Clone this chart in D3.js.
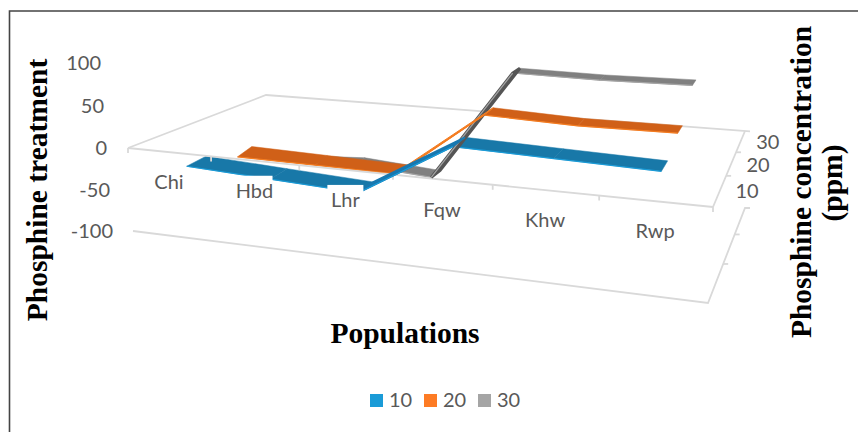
<!DOCTYPE html>
<html>
<head>
<meta charset="utf-8">
<script src="https://cdn.jsdelivr.net/npm/d3@7"></script>
<style>
  html, body { margin: 0; padding: 0; background: white; }
  svg { display: block; }
</style>
</head>
<body>
<div id="container"></div>
<script>
let w = 858;
let h = 432;

// values
let categories = ["Chi", "Hbd", "Lhr", "Fqw", "Khw", "Rwp"];
let concentrations = [10, 20, 30];
let values10 = [-26, -31, -36, 28, 25, 22];
let values20 = [-44, -45, -46, 38, 34, 35];
let values30 = [-82, -76, -84, 67, 65, 66];
let valueTicks = [100, 50, 0, -50, -100];

// colours for top of ribbon, steep part / edge, legend
let topColors = ["#1878a8", "#d06018", "#808080"];
let edgeColors = ["#1a9bd7", "#f47c20", "#a5a5a5"];
let riseColors = ["#1878b0", "#f47c20", "#555555"];
let riseWidths = [1.6, 1, 3];
let legendColors = ["#1a9bd7", "#fd7b24", "#a5a5a5"];
let gridColor = "#d9d9d9";
let textColor = "#595959";

// depth slots of the three ribbons, measured on the floor
let slotFront = [0.13, 0.52, 0.87];
let slotBack = [0.28, 0.63, 0.96];
let backLift = [1.5, 4, 0]; // ribbons look a bit wider on the left side
let labelDepth = [0.22, 0.565, 0.87];
let depthTicks = [0.41, 0.72];

// the floor of the box at value 0, four corners on screen
let frontLeft = [128, 148], frontRight = [713, 207];
let backLeft = [266, 95], backRight = [745, 131];

let catScale = d3.scaleBand().domain(categories).range([0, 1]);
// px per value unit at the left / right end of the front edge
let unitScale = d3.scaleLinear().domain([0, 1]).range([0.83, 0.96]);
let leanScale = d3.scaleLinear().domain([0, 1]).range([-0.04, 0.05]);

// the x axis is foreshortened toward the left
function warp(u){
  return u / (u + (1 - u) * 1.208);
}

function project(u, d, v){
  let t = warp(u);
  let fx = d3.interpolateNumber(frontLeft[0], frontRight[0])(t);
  let fy = d3.interpolateNumber(frontLeft[1], frontRight[1])(t);
  let bx = d3.interpolateNumber(backLeft[0], backRight[0])(t);
  let by = d3.interpolateNumber(backLeft[1], backRight[1])(t);
  let x = fx + (bx - fx) * d + v * leanScale(t) * (1 - d);
  let y = fy + (by - fy) * d - v * unitScale(t) * (1 - 0.2 * d);
  return [x, y];
}

function catCenter(name){
  return catScale(name) + catScale.bandwidth() / 2;
}

let viz = d3.select("#container")
  .append("svg")
    .attr("width", w)
    .attr("height", h)
    .style("background-color", "white")
;

// frame
viz.append("path")
    .attr("d", "M9.5," + h + "V11H" + w)
    .attr("fill", "none")
    .attr("stroke", "#444")
    .attr("stroke-width", 1.6)
;

let lineGen = d3.line();

function gridLine(points){
  viz.append("path")
      .attr("d", lineGen(points))
      .attr("fill", "none")
      .attr("stroke", gridColor)
      .attr("stroke-width", 1.8)
  ;
}

// floor and walls, behind the ribbons
gridLine([project(0, 0, 0), project(0, 1, 0), [750, 131.4]]);
gridLine([[133, 231], project(1, 0, -100), project(1, 1, -100), [750, 208]]);
gridLine([project(1, 0, 0), project(1, 1, 0)]);
depthTicks.forEach(function(d){
  let a = project(1, d, 0);
  let b = project(1, d, -100);
  gridLine([a, [a[0] + 5, a[1]]]);
  gridLine([b, [b[0] + 5, b[1]]]);
});

let allValues = [values10, values20, values30];

function backPoint(series, i){
  let u = catCenter(categories[i]);
  let p = project(u, slotBack[series], allValues[series][i]);
  let fade = (1 - warp(u)) * (1 - warp(u));
  return [p[0], p[1] - fade * backLift[series]];
}

function ribbonQuad(series, i, j){
  return [
    project(catCenter(categories[i]), slotFront[series], allValues[series][i]),
    project(catCenter(categories[j]), slotFront[series], allValues[series][j]),
    backPoint(series, j),
    backPoint(series, i)
  ];
}

function isSteep(series, i){
  return Math.abs(allValues[series][i + 1] - allValues[series][i]) > 30;
}

function drawSegment(series, i){
  let quad = ribbonQuad(series, i, i + 1);
  let steep = isSteep(series, i);
  viz.append("path")
      .attr("d", lineGen(quad) + "Z")
      .attr("fill", steep ? riseColors[series] : topColors[series])
      .attr("stroke", steep ? riseColors[series] : topColors[series])
      .attr("stroke-width", steep ? riseWidths[series] : 0.5)
  ;
  viz.append("path")
      .attr("d", lineGen(quad.slice(0, 2)))
      .attr("fill", "none")
      .attr("stroke", edgeColors[series])
      .attr("stroke-width", 1.2)
  ;
}

// back ribbons first, flat pieces before the axis line
[2, 1, 0].forEach(function(series){
  d3.range(categories.length - 1).forEach(function(i){
    if(!isSteep(series, i)) drawSegment(series, i);
  });
});

// front edge of the floor with its ticks
gridLine([project(0, 0, 0), project(1, 0, 0)]);
d3.range(categories.length + 1).forEach(function(i){
  let p = project(i / categories.length, 0, 0);
  gridLine([p, [p[0], p[1] + 5]]);
});

// the steep pieces run over the axis
[2, 1, 0].forEach(function(series){
  d3.range(categories.length - 1).forEach(function(i){
    if(isSteep(series, i)) drawSegment(series, i);
  });
});

// value labels
viz.selectAll(".valueTick").data(valueTicks).enter()
  .append("text")
    .classed("valueTick", true)
    .attr("x", function(d){ return project(0, 0, d)[0] - 21 - d * 0.02; })
    .attr("y", function(d){ return project(0, 0, d)[1] + 7 - Math.max(d, 0) * 0.02; })
    .attr("text-anchor", "end")
    .text(function(d){ return d; })
;

// category labels, some sit on a white box in the original
let boxed = ["Hbd", "Lhr"];
viz.selectAll(".catBox").data(boxed).enter()
  .append("rect")
    .classed("catBox", true)
    .attr("x", function(d){ return project(catCenter(d), 0, 0)[0] - 18; })
    .attr("y", function(d){ return project(catCenter(d), 0, 0)[1] + 15; })
    .attr("width", 36)
    .attr("height", 14)
    .attr("fill", "white")
;
viz.selectAll(".catTick").data(categories).enter()
  .append("text")
    .classed("catTick", true)
    .attr("x", function(d){ return project(catCenter(d), 0, 0)[0]; })
    .attr("y", function(d){ return project(catCenter(d), 0, 0)[1] + 37; })
    .attr("text-anchor", "middle")
    .text(function(d){ return d; })
;

// depth labels
viz.selectAll(".depthTick").data(concentrations).enter()
  .append("text")
    .classed("depthTick", true)
    .attr("x", function(d, i){ return project(1, labelDepth[i], 0)[0] + 27; })
    .attr("y", function(d, i){ return project(1, labelDepth[i], 0)[1] + 8; })
    .attr("text-anchor", "middle")
    .text(function(d){ return d; })
;

viz.selectAll(".valueTick,.catTick,.depthTick")
    .attr("font-family", "Lato")
    .attr("font-size", 20)
    .attr("fill", textColor)
;

// titles
function title(txt, x, y, rotated){
  viz.append("text")
      .attr("transform", "translate(" + x + "," + y + ")" + (rotated ? " rotate(-90)" : ""))
      .attr("text-anchor", "middle")
      .attr("font-family", "Liberation Serif")
      .attr("font-weight", "bold")
      .attr("font-size", 29.5)
      .attr("fill", "black")
      .text(txt)
  ;
}
title("Phosphine treatment", 47, 190, true);
title("Populations", 405, 343, false);
title("Phosphine concentration", 811, 182, true);
title("(ppm)", 842, 183, true);

// legend
let legendX = [370, 424, 478];
let legend = viz.selectAll(".legendItem").data(concentrations).enter()
  .append("g")
    .classed("legendItem", true)
    .attr("transform", function(d, i){ return "translate(" + legendX[i] + ",394)"; })
;
legend.append("rect")
    .attr("width", 13)
    .attr("height", 13)
    .attr("fill", function(d, i){ return legendColors[i]; })
;
legend.append("text")
    .attr("x", 19)
    .attr("y", 13)
    .attr("font-family", "Lato")
    .attr("font-size", 20)
    .attr("fill", textColor)
    .text(function(d){ return d; })
;
</script>
</body>
</html>
